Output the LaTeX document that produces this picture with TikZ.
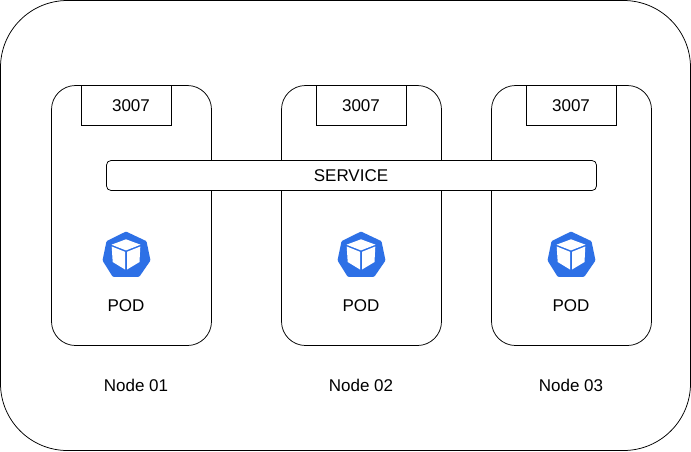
\documentclass[tikz,border=0pt]{standalone}
\usepackage{fontspec}
\setmainfont{Liberation Sans}
\definecolor{k8sblue}{RGB}{45,112,230}
\tikzset{
  box/.style={draw=black,fill=white,line width=0.75pt,rectangle,outer sep=0pt,inner sep=0pt},
  outerbox/.style={box,minimum width=690pt,minimum height=450pt,rounded corners=67pt},
  workerbox/.style={box,minimum width=160pt,minimum height=260pt,rounded corners=24pt},
  portbox/.style={box,minimum width=90pt,minimum height=40pt},
  servicebox/.style={box,minimum width=490pt,minimum height=30pt,rounded corners=4.5pt},
  lbl/.style={font=\fontsize{17pt}{20pt}\selectfont,text=black,inner sep=0pt},
  podicon/.pic={
    \fill[k8sblue,line join=round,rounded corners=1pt]
      (-0.5,-22.5) -- (20,-12.8) -- (24,6.5) -- (12.8,22.8) -- (-13.8,22.8) -- (-24,6.5) -- (-20,-12.8) -- cycle;
    \fill[white] (-0.5,-14.7) -- (14,-9.3) -- (-0.5,-3.6) -- (-15,-9.3) -- cycle;
    \fill[white] (-14.8,-7.5) -- (-1.5,-2.2) -- (-1.5,15.5) -- (-13.8,8) -- cycle;
    \fill[white] (13.8,-7.5) -- (0.5,-2.2) -- (0.5,15.5) -- (13,8) -- cycle;
  }
}
\begin{document}
\begin{tikzpicture}[x=1pt,y=-1pt]
\useasboundingbox (0,0) rectangle (691,451);
\node[outerbox] (outer) at (345.5,225.5) {};
\node[workerbox] (w1) at (131.5,215.5) {};
\node[workerbox] (w2) at (361.5,215.5) {};
\node[workerbox] (w3) at (571.5,215.5) {};
\node[portbox] (p1) at (126.5,105.5) {};
\node[portbox] (p2) at (361.5,105.5) {};
\node[portbox] (p3) at (571.5,105.5) {};
\node[lbl] (pt1) at (131,105.7) {3007};
\node[lbl] (pt2) at (361,105.7) {3007};
\node[lbl] (pt3) at (571,105.7) {3007};
\node[servicebox] (svc) at (351.5,175.5) {};
\node[lbl] (svct) at (351,175.7) {SERVICE};
\pic at (126.5,254) {podicon};
\pic at (361.5,254) {podicon};
\pic at (571.5,254) {podicon};
\node[lbl] (pod1) at (126,305.5) {POD};
\node[lbl] (pod2) at (361,305.5) {POD};
\node[lbl] (pod3) at (571,305.5) {POD};
\node[lbl] (n1) at (136,385.5) {Node 01};
\node[lbl] (n2) at (361,385.5) {Node 02};
\node[lbl] (n3) at (571,385.5) {Node 03};
\end{tikzpicture}
\end{document}
